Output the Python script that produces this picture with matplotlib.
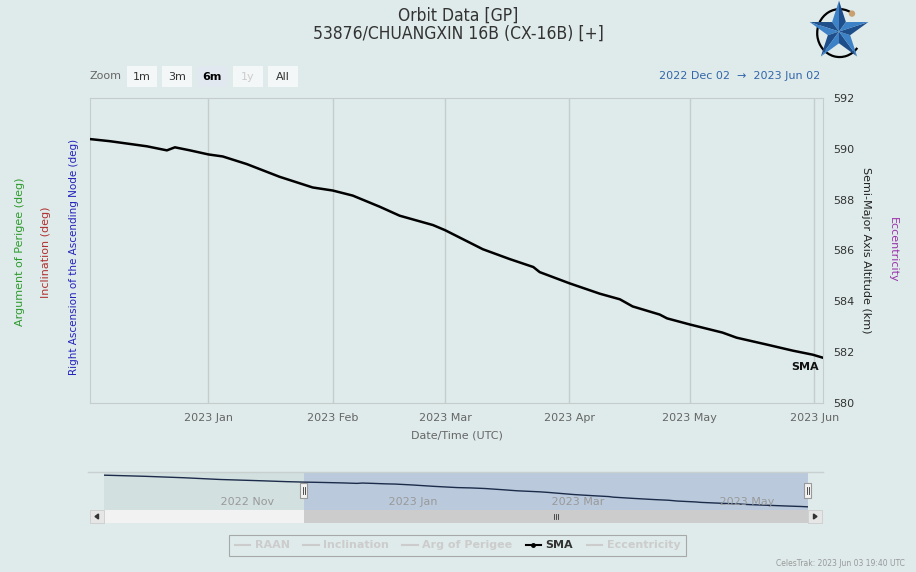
import numpy as np
import pandas as pd
import matplotlib
matplotlib.use("Agg")
import matplotlib.pyplot as plt
import matplotlib.dates as mdates
from matplotlib.patches import Rectangle, Polygon, Arc, Circle
from matplotlib.lines import Line2D

# ---- data (SMA altitude, km) ----
sma_dates = ["2022-12-02 18:00", "2022-12-07 12:00", "2022-12-16 16:00", "2022-12-21 16:00",
             "2022-12-23 16:00", "2022-12-27 10:00", "2023-01-01 00:00", "2023-01-04 14:00",
             "2023-01-10 14:00", "2023-01-18 18:00", "2023-01-27 00:00", "2023-02-01 00:00",
             "2023-02-06 00:00", "2023-02-12 18:00", "2023-02-17 16:00", "2023-02-26 00:00",
             "2023-03-01 00:00", "2023-03-10 10:00", "2023-03-17 04:00", "2023-03-23 00:00",
             "2023-03-24 14:00", "2023-04-01 00:00", "2023-04-08 14:00", "2023-04-13 14:00",
             "2023-04-16 18:00", "2023-04-23 12:00", "2023-04-25 08:00", "2023-05-01 00:00",
             "2023-05-09 04:00", "2023-05-12 16:00", "2023-05-20 04:00", "2023-05-26 16:00",
             "2023-05-31 16:00", "2023-06-03 05:00"]
sma_km = [590.38, 590.30, 590.10, 589.94, 590.06, 589.94, 589.78, 589.70,
          589.40, 588.90, 588.48, 588.36, 588.16, 587.72, 587.37, 587.00,
          586.80, 586.05, 585.66, 585.35, 585.15, 584.71, 584.30, 584.08,
          583.80, 583.48, 583.33, 583.09, 582.77, 582.57, 582.30, 582.06,
          581.90, 581.78]

# earlier part of the record, only seen in the navigator
early_dates = ["2022-09-21 00:00", "2022-10-06 00:00", "2022-10-20 00:00", "2022-11-02 00:00",
               "2022-11-17 00:00", "2022-11-26 00:00"]
early_km = [592.80, 592.40, 591.90, 591.30, 590.85, 590.55]

view_start = "2022-12-02 12:00"
view_end = "2023-06-03 05:00"
range_text = "2022 Dec 02  \u2192  2023 Jun 02"

y_ticks = [580, 582, 584, 586, 588, 590, 592]
zoom_buttons = ["1m", "3m", "6m", "1y", "All"]
legend_names = ["RAAN", "Inclination", "Arg of Perigee", "SMA", "Eccentricity"]

BG = "#dfeaea"
W, H = 916, 572

fig = plt.figure(figsize=(W / 100, H / 100), dpi=100, facecolor=BG)


def fx(px):
    return px / W


def fy(py):
    return 1 - py / H


def rect(x, y, w, h, **kw):
    r = Rectangle((fx(x), fy(y + h)), w / W, h / H, transform=fig.transFigure, **kw)
    fig.patches.append(r)
    return r


# ---- main plot ----
ax = fig.add_axes([fx(90), fy(403), (823 - 90) / W, (403 - 98) / H])
ax.set_facecolor(BG)
dates = pd.to_datetime(sma_dates)
ax.plot(dates, sma_km, color="black", lw=1.8, solid_joinstyle="round", zorder=3)
ax.set_xlim(pd.Timestamp(view_start), pd.Timestamp(view_end))
ax.set_ylim(580, 592)
ax.set_yticks(y_ticks)
ax.yaxis.tick_right()
ax.xaxis.set_major_locator(mdates.MonthLocator())
ax.xaxis.set_major_formatter(mdates.DateFormatter("%Y %b"))
ax.grid(axis="x", color="#c4cccc", lw=1)
ax.tick_params(axis="x", length=0, pad=7, labelsize=8, labelcolor="#666666")
ax.tick_params(axis="y", length=0, pad=7, labelsize=8, labelcolor="#333333")
for s in ax.spines.values():
    s.set_color("#c4cccc")

ax.annotate("SMA", xy=(dates[-1], sma_km[-1]), xytext=(-18, -9), textcoords="offset pixels",
            ha="center", va="center", fontsize=8, fontweight="bold", color="#111111")

fig.text(fx(457), fy(436), "Date/Time (UTC)", ha="center", va="center", fontsize=8, color="#666666")

# axis titles
fig.text(fx(20), fy(252), "Argument of Perigee (deg)", rotation=90, ha="center", va="center",
         fontsize=8, color="#2e9a2e")
fig.text(fx(46), fy(252), "Inclination (deg)", rotation=90, ha="center", va="center",
         fontsize=8, color="#b03030")
fig.text(fx(74), fy(257), "Right Ascension of the Ascending Node (deg)", rotation=90,
         ha="center", va="center", fontsize=7.5, color="#2222bb")
fig.text(fx(866), fy(250), "Semi-Major Axis Altitude (km)", rotation=270, ha="center", va="center",
         fontsize=8, color="#222222")
fig.text(fx(893), fy(250), "Eccentricity", rotation=270, ha="center", va="center",
         fontsize=8, color="#9933aa")

# ---- title ----
fig.text(fx(458), fy(16), "Orbit Data [GP]", ha="center", va="center", fontsize=12.5,
         color="#333333", fontstretch="condensed")
fig.text(fx(458), fy(34), "53876/CHUANGXIN 16B (CX-16B) [+]", ha="center", va="center",
         fontsize=12.5, color="#333333", fontstretch="condensed")

# ---- zoom buttons ----
fig.text(fx(90), fy(76), "Zoom", ha="left", va="center", fontsize=8, color="#666666")
btn_x = [127, 162, 197, 233, 268]
for bx, lab in zip(btn_x, zoom_buttons):
    face = "#f4f7f7"
    col = "#333333"
    weight = "normal"
    if lab == "6m":
        face = "#e2e8f0"
        weight = "bold"
        col = "#000000"
    if lab == "1y":
        col = "#cccccc"
    rect(bx, 66, 30, 21, facecolor=face, edgecolor="none")
    fig.text(fx(bx + 15), fy(76.5), lab, ha="center", va="center", fontsize=8,
             color=col, fontweight=weight)

fig.text(fx(820), fy(76), range_text, ha="right", va="center", fontsize=8, color="#3366aa")

# ---- navigator ----
nav_dates = pd.to_datetime(early_dates + sma_dates)
nav_km = early_km + sma_km
ax_nav = fig.add_axes([fx(104), fy(510), (808 - 104) / W, (510 - 472) / H])
ax_nav.set_facecolor("#d3e0e0")
ax_nav.axvspan(pd.Timestamp(view_start), pd.Timestamp(view_end), color="#bacadc", lw=0, zorder=0)
ax_nav.plot(nav_dates, nav_km, color="#1c2b4a", lw=1, zorder=2)
ax_nav.set_xlim(nav_dates[0], nav_dates[-1])
ax_nav.margins(y=0.1)
ax_nav.set_yticks([])
ax_nav.xaxis.set_major_locator(mdates.MonthLocator(bymonth=[1, 3, 5, 7, 9, 11]))
ax_nav.tick_params(axis="x", length=0, labelbottom=False)
for s in ax_nav.spines.values():
    s.set_visible(False)
for t in ax_nav.get_xticks():
    if ax_nav.get_xlim()[0] <= t <= ax_nav.get_xlim()[1]:
        ax_nav.text(t, 0.2, " " + mdates.num2date(t).strftime("%Y %b"), transform=ax_nav.get_xaxis_transform(),
                    ha="left", va="center", fontsize=8, color="#999999")

fig.lines.append(Line2D([fx(88), fx(823)], [fy(472), fy(472)], transform=fig.transFigure,
                        color="#c8d0d0", lw=1))

# selection positions in pixels
x0 = ax_nav.transData.transform((mdates.date2num(pd.Timestamp(view_start)), 0))[0]
x1 = ax_nav.transData.transform((mdates.date2num(pd.Timestamp(view_end)), 0))[0]

# handles
for hx in (x0, x1):
    rect(hx - 3.5, 483, 7, 15, facecolor="#f2f2f2", edgecolor="#999999", lw=0.8, zorder=5)
    for dx in (-1, 1):
        fig.lines.append(Line2D([fx(hx + dx), fx(hx + dx)], [fy(487), fy(494)], transform=fig.transFigure,
                                color="#333333", lw=0.6, zorder=6))

# scrollbar
rect(104, 510, 704, 13, facecolor="#f2f2f2", edgecolor="none")
rect(x0, 510, x1 - x0, 13, facecolor="#cccccc", edgecolor="none")
rect(90, 510, 14, 13, facecolor="#e6e6e6", edgecolor="#cccccc", lw=0.6)
rect(808, 510, 14, 13, facecolor="#e6e6e6", edgecolor="#cccccc", lw=0.6)
fig.patches.append(Polygon([(fx(95), fy(516.5)), (fx(98.5), fy(514)), (fx(98.5), fy(519))],
                           closed=True, transform=fig.transFigure, color="#333333"))
fig.patches.append(Polygon([(fx(817), fy(516.5)), (fx(813.5), fy(514)), (fx(813.5), fy(519))],
                           closed=True, transform=fig.transFigure, color="#333333"))
xm = (x0 + x1) / 2
for dx in (-2, 0, 2):
    fig.lines.append(Line2D([fx(xm + dx), fx(xm + dx)], [fy(514), fy(519)], transform=fig.transFigure,
                            color="#333333", lw=0.6))

# ---- legend ----
handles = []
for name in legend_names:
    if name == "SMA":
        handles.append(Line2D([], [], color="black", lw=1.5, marker="o", markersize=2.5))
    else:
        handles.append(Line2D([], [], color="#cccccc", lw=1.5))
leg = fig.legend(handles, legend_names, loc="center", bbox_to_anchor=(fx(457.5), fy(545.5)),
                 ncol=5, frameon=True, fancybox=False, facecolor=BG, edgecolor="#999999",
                 handlelength=1.4, handletextpad=0.4, columnspacing=1.2, borderpad=0.5,
                 prop={"size": 8, "weight": "bold"})
leg.get_frame().set_linewidth(0.8)
for name, txt in zip(legend_names, leg.get_texts()):
    txt.set_color("#333333" if name == "SMA" else "#cccccc")

fig.text(fx(905), fy(563), "CelesTrak: 2023 Jun 03 19:40 UTC", ha="right", va="center",
         fontsize=5.5, color="#999999")

# ---- logo ----
ax_logo = fig.add_axes([fx(808), fy(60), 62 / W, 60 / H])
ax_logo.set_xlim(-1.0, 1.0)
ax_logo.set_ylim(-0.92, 1.02)
ax_logo.set_aspect("equal")
ax_logo.axis("off")
ax_logo.add_patch(Arc((0.02, -0.05), 1.45, 1.55, theta1=55, theta2=320, color="black", lw=1.6))
ax_logo.add_patch(Circle((0.42, 0.58), 0.08, color="#c9a070"))
ang_out = np.pi / 2 + np.arange(5) * 2 * np.pi / 5
ang_in = ang_out + np.pi / 5
for i in range(5):
    po = (np.cos(ang_out[i]), np.sin(ang_out[i]))
    pl = (0.38 * np.cos(ang_in[i - 1]), 0.38 * np.sin(ang_in[i - 1]))
    pr = (0.38 * np.cos(ang_in[i]), 0.38 * np.sin(ang_in[i]))
    ax_logo.add_patch(Polygon([(0, 0), pl, po], color="#1f4f8a", lw=0))
    ax_logo.add_patch(Polygon([(0, 0), po, pr], color="#3d82c6", lw=0))

fig.savefig("out.png", dpi=100, facecolor=BG)
